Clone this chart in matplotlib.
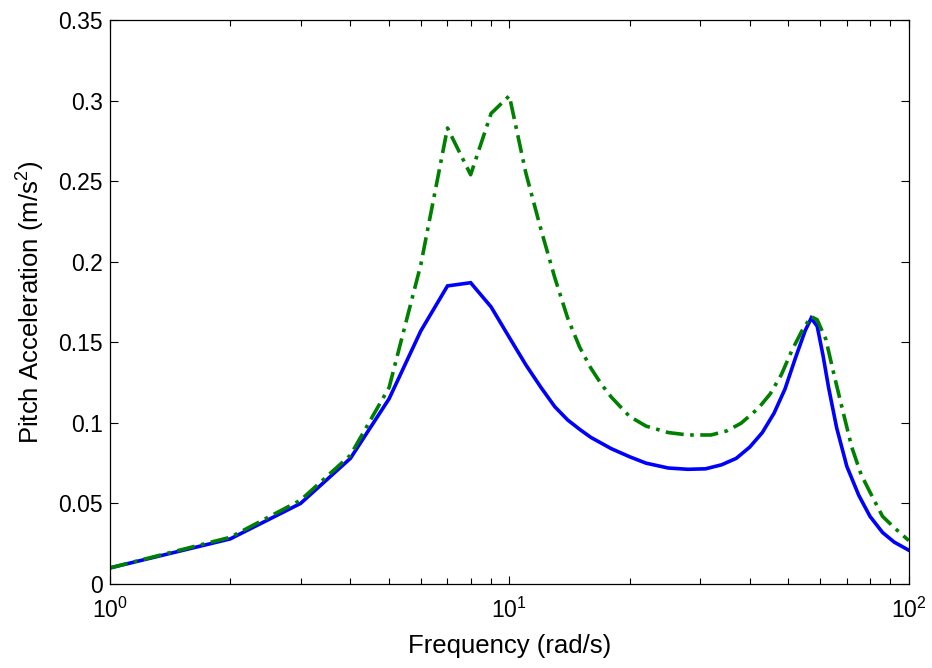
import matplotlib

matplotlib.use("Agg")
import matplotlib.pyplot as plt
from matplotlib.ticker import FuncFormatter, LogLocator, NullFormatter

plt.rcParams["font.family"] = ["Liberation Sans", "DejaVu Sans"]
plt.rcParams["mathtext.default"] = "regular"

# solid blue curve
freq_a = [1, 2, 3, 4, 5, 6, 7, 8, 9, 10, 11, 12, 13, 14, 15, 16, 18, 20, 22, 25, 28,
          31, 34, 37, 40, 43, 46, 49, 52, 55, 57, 59, 61, 63, 66, 70, 75, 80, 86, 92, 100]
accel_a = [0.010, 0.028, 0.050, 0.078, 0.115, 0.157, 0.185, 0.187, 0.172, 0.153, 0.136,
           0.122, 0.110, 0.1018, 0.096, 0.091, 0.084, 0.079, 0.075, 0.072, 0.0712,
           0.0715, 0.074, 0.078, 0.085, 0.094, 0.106, 0.121, 0.140, 0.157, 0.165, 0.160,
           0.142, 0.122, 0.097, 0.073, 0.055, 0.042, 0.032, 0.026, 0.021]

# dash-dot green curve
freq_b = [1, 2, 3, 4, 5, 6, 7, 8, 9, 10, 11, 12, 13, 14, 15, 16, 17, 18, 20, 22, 25, 28,
          32, 35, 38, 42, 45, 48, 51, 54, 57, 59, 62, 65, 68, 72, 76, 80, 86, 92, 100]
accel_b = [0.010, 0.029, 0.052, 0.080, 0.122, 0.198, 0.283, 0.254, 0.292, 0.303, 0.255,
           0.220, 0.190, 0.165, 0.147, 0.134, 0.124, 0.116, 0.104, 0.098, 0.094, 0.0925,
           0.0925, 0.095, 0.0997, 0.109, 0.118, 0.130, 0.145, 0.157, 0.166, 0.164, 0.152,
           0.130, 0.110, 0.085, 0.068, 0.057, 0.042, 0.035, 0.027]

y_ticks = [0, 0.05, 0.1, 0.15, 0.2, 0.25, 0.3, 0.35]

fig = plt.figure(figsize=(9.32, 6.68), dpi=100)
ax = fig.add_axes([0.118, 0.1257, 0.857, 0.8443])

ax.plot(freq_a, accel_a, color=(0, 0, 1), lw=2.6, solid_joinstyle="miter")
ax.plot(freq_b, accel_b, color=(0, 0.5, 0), lw=2.6, linestyle=(0, (5, 1.8, 1, 1.8)))

ax.set_xscale("log")
ax.set_xlim(1, 100)
ax.set_ylim(0, 0.35)
ax.set_yticks(y_ticks)
ax.yaxis.set_major_formatter(FuncFormatter(lambda v, p: f"{v:g}"))
ax.xaxis.set_minor_locator(LogLocator(base=10, subs=range(2, 10)))
ax.xaxis.set_minor_formatter(NullFormatter())

ax.tick_params(which="both", direction="in", top=True, right=True, labelsize=16.5)
ax.tick_params(which="major", length=6, width=0.8)
ax.tick_params(which="minor", length=4, width=0.8)
ax.tick_params(axis="x", pad=10)
ax.tick_params(axis="y", pad=5)
for s in ax.spines.values():
    s.set_linewidth(0.9)

ax.set_xlabel("Frequency (rad/s)", fontsize=18.5, labelpad=8)
ax.set_ylabel("Pitch Acceleration (m/s$^2$)", fontsize=18.5, labelpad=8)

fig.savefig("out.png")
